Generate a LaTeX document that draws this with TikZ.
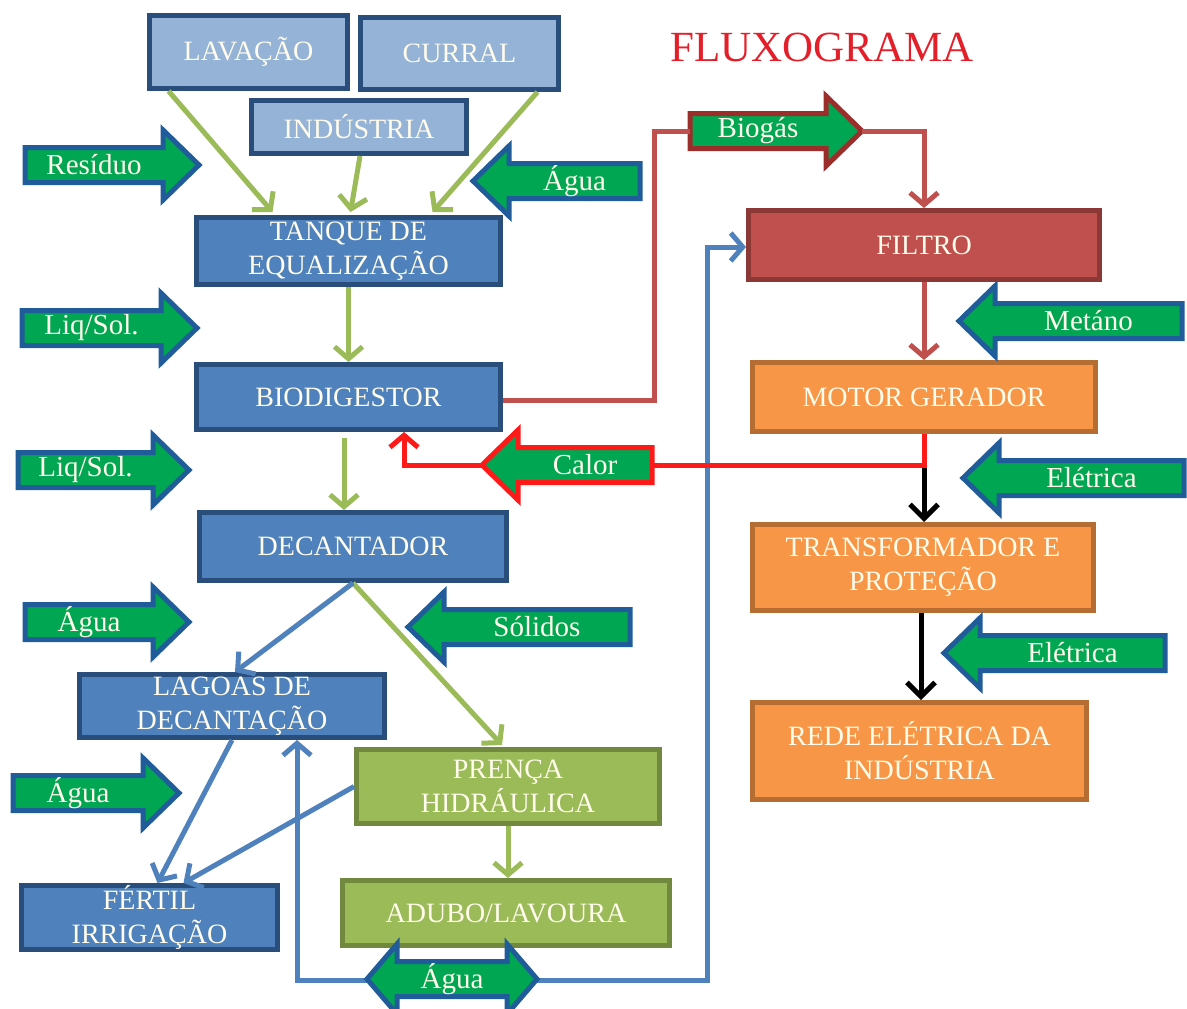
\documentclass[tikz,border=0pt]{standalone}
\usepackage{fontspec}
\setmainfont{Liberation Serif}
\usetikzlibrary{arrows.meta}

\definecolor{lightbox}{HTML}{95B3D7}
\definecolor{midbox}{HTML}{4F81BD}
\definecolor{navyline}{HTML}{2A4E7C}
\definecolor{greenbox}{HTML}{9BBB59}
\definecolor{oliveline}{HTML}{71893F}
\definecolor{orangebox}{HTML}{F79646}
\definecolor{orangeline}{HTML}{B66D31}
\definecolor{redbox}{HTML}{C0504D}
\definecolor{redline}{HTML}{8C3836}
\definecolor{arrowgreen}{HTML}{00A651}
\definecolor{arrowblue}{HTML}{1F5C99}
\definecolor{biogasred}{HTML}{9B2D2A}
\definecolor{calorred}{HTML}{FF1A1A}
\definecolor{titlered}{HTML}{E3202A}
\definecolor{boxtext}{HTML}{FFFCEB}

\tikzset{
  box/.style={draw=navyline, line width=2.5pt, text=boxtext, align=center,
    inner sep=0pt, font=\fontsize{14}{17}\selectfont},
  topbox/.style={box, fill=lightbox},
  bluebox/.style={box, fill=midbox},
  greenstep/.style={box, fill=greenbox, draw=oliveline},
  orangestep/.style={box, fill=orangebox, draw=orangeline},
  redstep/.style={box, fill=redbox, draw=redline},
  boxsize/.style 2 args={minimum width=(#1-5)*0.5pt, minimum height=(#2-5)*0.5pt},
  flowarrow/.style={fill=arrowgreen, line width=2.5pt, line join=miter},
  flowtext/.style={text=boxtext, inner sep=0pt, font=\fontsize{14.5}{17}\selectfont},
  headline/.style={text=titlered, font=\fontsize{21.5}{26}\selectfont},
  greenlink/.style={draw=greenbox, line width=2.5pt, ->},
  bluelink/.style={draw=midbox, line width=2.5pt},
  redlink/.style={draw=redbox, line width=2.5pt},
  calorlink/.style={draw=calorred, line width=2.5pt},
  blacklink/.style={draw=black, line width=2.5pt, -{Straight Barb[length=7pt,width=14pt]}},
}

% seta larga para a direita: [borda]{nome}{cauda x}{ponta x}{y}{texto}
\newcommand{\rightflow}[6][arrowblue]{%
  \draw[flowarrow, draw=#1] (#3,#5-17.5) -- (#4-36,#5-17.5) -- (#4-36,#5-35)
    -- (#4,#5) -- (#4-36,#5+35) -- (#4-36,#5+17.5) -- (#3,#5+17.5) -- cycle;
  \node[flowtext] (#2) at ({(#3+#4-36)/2},#5) {#6};
  \coordinate (#2-tail) at (#3,#5);
  \coordinate (#2-tip) at (#4,#5);
}
% seta larga para a esquerda: [borda]{nome}{ponta x}{cauda x}{y}{texto}
\newcommand{\leftflow}[6][arrowblue]{%
  \draw[flowarrow, draw=#1] (#4,#5-17.5) -- (#3+36,#5-17.5) -- (#3+36,#5-35)
    -- (#3,#5) -- (#3+36,#5+35) -- (#3+36,#5+17.5) -- (#4,#5+17.5) -- cycle;
  \node[flowtext] (#2) at ({(#3+36+#4)/2},#5) {#6};
  \coordinate (#2-tip) at (#3,#5);
  \coordinate (#2-tail) at (#4,#5);
}

\begin{document}
\begin{tikzpicture}[x=0.5pt, y=-0.5pt, >={Straight Barb[length=6pt,width=14pt]}]
\useasboundingbox (0,0) rectangle (1187,1008);
\clip (0,0) rectangle (1187,1008);

% Titulo
\node[headline] (titulo) at (822,47) {FLUXOGRAMA};

% Origem dos residuos
\node[topbox, boxsize={203}{78}] (lavacao) at (248.5,52) {LAVAÇÃO};
\node[topbox, boxsize={203}{77}] (curral) at (459.5,53.5) {CURRAL};
\node[topbox, boxsize={220}{58}] (industria) at (359,127) {INDÚSTRIA};

% Linha de tratamento
\node[bluebox, boxsize={309}{72}] (tanque) at (348.5,251) {TANQUE DE\\EQUALIZAÇÃO};
\node[bluebox, boxsize={309}{70}] (biodigestor) at (348.5,397) {BIODIGESTOR};
\node[bluebox, boxsize={312}{73}] (decantador) at (353,546.5) {DECANTADOR};
\node[bluebox, boxsize={310}{68}] (lagoas) at (232,706) {LAGOAS DE\\DECANTAÇÃO};
\node[bluebox, boxsize={261}{69}] (fertil) at (149.5,917.5) {FÉRTIL\\IRRIGAÇÃO};

% Solidos
\node[greenstep, boxsize={308}{79}] (prenca) at (508,786.5) {PRENÇA\\HIDRÁULICA};
\node[greenstep, boxsize={332}{70}] (adubo) at (506,913) {ADUBO/LAVOURA};

% Biogas e energia
\node[redstep, boxsize={356}{74}] (filtro) at (924,245) {FILTRO};
\node[orangestep, boxsize={348}{74}] (motor) at (924,397) {MOTOR GERADOR};
\node[orangestep, boxsize={346}{91}] (transf) at (923,567.5) {TRANSFORMADOR E\\PROTEÇÃO};
\node[orangestep, boxsize={339}{102}] (rede) at (919.5,751) {REDE ELÉTRICA DA\\INDÚSTRIA};

% Setas de fluxo
\rightflow{residuo}{25}{199}{165}{Resíduo}
\leftflow{agua1}{473}{640}{181}{Água}
\rightflow{liqsol1}{22}{197}{328}{Liq/Sol.}
\rightflow{liqsol2}{18}{189}{470}{Liq/Sol.}
\rightflow{agua2}{25}{189}{622}{Água}
\leftflow{solidos}{408}{630}{627}{Sólidos}
\rightflow{agua3}{13}{179}{793}{Água}
\rightflow[biogasred]{biogas}{690}{862}{131}{Biogás}
\leftflow{metano}{959}{1182}{321}{Metáno}
\leftflow[calorred]{calor}{482}{652}{465}{Calor}
\leftflow{eletrica1}{963}{1184}{478}{Elétrica}
\leftflow{eletrica2}{944}{1165}{653}{Elétrica}

% Ligacoes verdes
\draw[greenlink] ([xshift=-40pt]lavacao.south) -- ([xshift=-38pt,yshift=1.5pt]tanque.north);
\draw[greenlink] ([xshift=0.5pt]industria.south) -- ([xshift=1pt,yshift=1.5pt]tanque.north);
\draw[greenlink] ([xshift=39pt]curral.south) -- ([xshift=42pt,yshift=1.5pt]tanque.north);
\draw[greenlink] (tanque.south) -- (biodigestor.north);
\draw[greenlink] ([xshift=-2.25pt,yshift=-3pt]biodigestor.south) -- ([xshift=-4.5pt]decantador.north);
\draw[greenlink] (decantador.south) -- ([xshift=-3pt,yshift=1pt]prenca.north);
\draw[greenlink] (prenca.south) -- (prenca.south |- adubo.north);

% Ligacoes azuis
\draw[bluelink, ->] (decantador.south) -- ([xshift=1.5pt]lagoas.north);
\draw[bluelink, ->] (lagoas.south) -- ([xshift=4pt]fertil.north);
\draw[bluelink, ->] (prenca.west) -- ([xshift=17pt]fertil.north);
\coordinate (loopturn) at (707,980);
\draw[bluelink, <->] ([xshift=32.5pt]lagoas.south) |- (loopturn) |- ([yshift=-1pt]filtro.west);

% Linha do biogas
\coordinate (biokink) at (654,131);
\draw[redlink] ([yshift=-1.5pt]biodigestor.east) -| (biokink) -- (biogas-tail);
\draw[redlink, ->] (biogas-tip) -| (filtro.north);
\draw[redlink, ->] (filtro.south) -- (filtro.south |- motor.north);

% Energia eletrica
\draw[blacklink] (motor.south) -- (motor.south |- transf.north);
\draw[blacklink] ([xshift=-1pt]transf.south) -- ([xshift=-1pt]transf.south |- rede.north);

% Calor de volta ao biodigestor
\draw[calorlink] (motor.south) |- (calor-tail);
\draw[calorlink, ->] (calor-tip) -| ([xshift=27.75pt]biodigestor.south);

% Agua de retorno (seta dupla)
\draw[flowarrow, draw=arrowblue] (367,979) -- (397,944) -- (397,961.5) -- (507,961.5)
  -- (507,944) -- (537,979) -- (507,1014) -- (507,996.5) -- (397,996.5) -- (397,1014) -- cycle;
\node[flowtext] (agua4) at (452,979) {Água};

\end{tikzpicture}
\end{document}
